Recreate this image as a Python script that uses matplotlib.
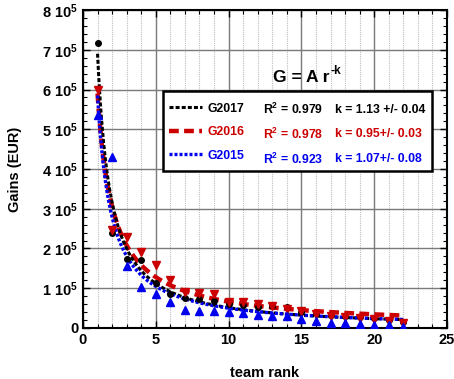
import numpy as np
import matplotlib
matplotlib.use("Agg")
import matplotlib.pyplot as plt
from matplotlib.lines import Line2D
from matplotlib.patches import Rectangle
from matplotlib.ticker import MultipleLocator, FixedLocator

plt.rcParams["font.family"] = ["Liberation Sans", "DejaVu Sans"]
plt.rcParams["font.weight"] = "bold"
plt.rcParams["mathtext.fontset"] = "custom"
plt.rcParams["mathtext.rm"] = "Liberation Sans:bold"
plt.rcParams["mathtext.it"] = "Liberation Sans:bold"
plt.rcParams["mathtext.bf"] = "Liberation Sans:bold"

# team rank
rank = np.arange(1, 23)

# gains per rank (EUR)
g2017 = [7.16e5, 2.40e5, 1.74e5, 1.71e5, 1.12e5, 0.86e5, 0.76e5, 0.73e5, 0.67e5, 0.60e5, 0.58e5,
         0.52e5, 0.55e5, 0.52e5, 0.41e5, 0.37e5, 0.33e5, 0.31e5, 0.27e5, 0.24e5, 0.20e5, 0.15e5]
g2016 = [6.00e5, 2.47e5, 2.28e5, 1.90e5, 1.58e5, 1.21e5, 0.90e5, 0.89e5, 0.86e5, 0.66e5, 0.66e5,
         0.60e5, 0.55e5, 0.47e5, 0.42e5, 0.35e5, 0.30e5, 0.28e5, 0.25e5, 0.22e5, 0.17e5, 0.13e5]
g2015 = [5.37e5, 4.31e5, 1.57e5, 1.02e5, 0.86e5, 0.66e5, 0.45e5, 0.43e5, 0.43e5, 0.41e5, 0.37e5,
         0.33e5, 0.29e5, 0.29e5, 0.22e5, 0.18e5, 0.13e5, 0.12e5, 0.10e5, 0.08e5, 0.08e5, 0.02e5]

# power-law fit parameters G = A r^-k
series = ["G2017", "G2016", "G2015"]
fit_A = [6.9e5, 5.9e5, 5.85e5]
fit_k = [1.13, 0.95, 1.07]
r2_text = ["0.979", "0.978", "0.923"]
k_text = ["1.13 +/- 0.04", "0.95+/- 0.03", "1.07+/- 0.08"]

ytick_vals = [0, 1e5, 2e5, 3e5, 4e5, 5e5, 6e5, 7e5, 8e5]
ytick_labels = ["0"] + [r"$%d\ 10^{5}$" % i for i in range(1, 9)]

colors = ["black", "#cc0000", "#0000ee"]
markers = ["o", "v", "^"]
msizes = [4, 6, 6]
styles = [dict(lw=2.2, dashes=(1.3, 0.7)),
          dict(lw=3.2, dashes=(2.2, 1.2)),
          dict(lw=2.4, dashes=(0.9, 0.6))]

fig = plt.figure(figsize=(4.54, 3.79), dpi=100)
ax = fig.add_axes([0.1828, 0.1346, 0.8018, 0.839])

rr = np.linspace(1, 22, 300)
data = [g2017, g2016, g2015]
for i in [1, 0, 2]:
    ax.plot(rr, fit_A[i] * rr ** (-fit_k[i]), color=colors[i], zorder=3, **styles[i])
for i in [0, 1, 2]:
    ax.plot(rank, data[i], ls="none", marker=markers[i], ms=msizes[i],
            color=colors[i], mec=colors[i], zorder=4)

ax.set_xlim(0, 25)
ax.set_ylim(0, 8e5)
ax.xaxis.set_major_locator(MultipleLocator(5))
ax.xaxis.set_minor_locator(MultipleLocator(1))
ax.yaxis.set_major_locator(FixedLocator(ytick_vals))
ax.yaxis.set_minor_locator(MultipleLocator(2e4))
ax.set_yticklabels(ytick_labels)
ax.tick_params(which="both", direction="in", top=True, right=True, labelsize=10.5)
ax.tick_params(which="major", length=5, width=1)
ax.tick_params(which="minor", length=3, width=0.8)
for lab in ax.get_xticklabels() + ax.get_yticklabels():
    lab.set_fontweight("bold")
ax.grid(which="major", color="#7a7a7a", lw=1.0, zorder=0)
ax.grid(which="minor", axis="x", color="#bdbdbd", lw=0.8, ls=(0, (1, 1)), zorder=0)
for s in ax.spines.values():
    s.set_linewidth(1.5)

ax.set_xlabel("team rank", fontsize=10.5, fontweight="bold", labelpad=14)
ax.set_ylabel("Gains (EUR)", fontsize=10.5, fontweight="bold", labelpad=14)

# formula with a small raised exponent
ftxt = ax.text(0.600, 0.789, "G = A r", transform=ax.transAxes,
               ha="center", va="center", fontsize=12.5, fontweight="bold")
fig.canvas.draw()
bb = ftxt.get_window_extent().transformed(ax.transAxes.inverted())
ax.text(bb.x1 + 0.003, bb.y1 - 0.004, "-k", transform=ax.transAxes,
        ha="left", va="center", fontsize=8.5, fontweight="bold")

# legend box
ax.add_patch(Rectangle((0.22, 0.494), 0.739, 0.251, transform=ax.transAxes,
                       fill=True, fc="white", ec="black", lw=1.8, zorder=5))
handles = [Line2D([], [], color=colors[i], **styles[i]) for i in range(3)]
leg = ax.legend(handles, series, loc="upper left", bbox_to_anchor=(0.236, 0.709),
                frameon=False, fontsize=8.8, handlelength=2.7, handletextpad=0.45,
                labelspacing=0.95, borderaxespad=0, borderpad=0)
leg.set_zorder(6)
for t, c in zip(leg.get_texts(), colors):
    t.set_color(c)
    t.set_fontweight("bold")
rows_y = [0.686, 0.610, 0.531]
for i in range(3):
    ax.text(0.495, rows_y[i], r"R$^{2}$ = " + r2_text[i], transform=ax.transAxes,
            color=colors[i], fontsize=8.8, fontweight="bold", va="center", zorder=6)
    ax.text(0.692, rows_y[i], "k = " + k_text[i], transform=ax.transAxes,
            color=colors[i], fontsize=8.8, fontweight="bold", va="center", zorder=6)

fig.savefig("out.png", dpi=100)
